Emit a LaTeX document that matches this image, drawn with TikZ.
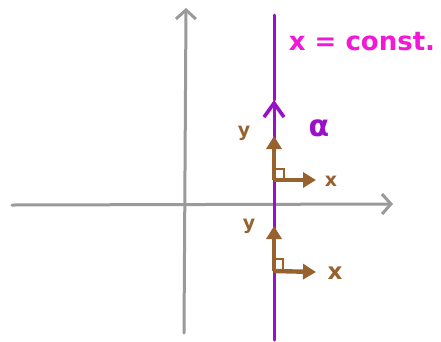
\documentclass[tikz,border=0pt]{standalone}
\usepackage{fontspec}
\setmainfont{DejaVu Sans}
\usepackage{tikz}
\usetikzlibrary{arrows.meta, positioning}

\definecolor{axisgray}{HTML}{9A9A9A}
\definecolor{curvepurple}{HTML}{9A10C8}
\definecolor{constpink}{HTML}{F218D8}
\definecolor{framebrown}{HTML}{98622F}

\begin{document}
\begin{tikzpicture}[
        x=1pt, y=-1pt,
        axis/.style={draw=axisgray, line width=3pt, line cap=round, -{Straight Barb[length=9pt, width=20pt, line width=3pt]}},
        curve/.style={draw=curvepurple, line width=3pt, line cap=round},
        frame/.style={draw=framebrown, line width=4.4pt, -{Triangle[length=13pt, width=15pt]}},
        corner/.style={draw=framebrown, line width=2.6pt},
        lbl/.style={text=framebrown, font=\bfseries\fontsize{19}{20}\selectfont, inner sep=0pt}
    ]
        \useasboundingbox (0,0) rectangle (441,341);

        % axes
        \coordinate (xstart) at (12,205);
        \coordinate (xend) at (393,204);
        \coordinate (ystart) at (184,333);
        \coordinate (yend) at (186,8);
        \draw[axis] (xstart) -- (xend);
        \draw[axis] (ystart) -- (yend);

        % the curve x = const.
        \coordinate (cbot) at (274,340);
        \coordinate (cmid) at (274,100);
        \coordinate (ctop) at (274,15);
        \draw[curve, -{Straight Barb[length=14pt, width=20pt, line width=3.6pt]}] (cbot) -- (cmid);
        \draw[curve] (cmid) -- (ctop);
        \node[text=constpink, font=\bfseries\fontsize{26}{28}\selectfont, inner sep=0pt] (eqn) at (362,42) {x = const.};
        \node[text=curvepurple, font=\bfseries\fontsize{30}{31}\selectfont, inner sep=0pt] (alpha) at (319,128) {α};

        % upper frame
        \coordinate (o1) at (274,180);
        \coordinate (ex1) at (316,180);
        \coordinate (ey1) at (274,136);
        \draw[frame] (o1) -- (ex1);
        \draw[frame] (o1) -- (ey1);
        \draw[corner] (274,169) -- (284,169) -- (284,180);
        \node[lbl] (x1) at (331,181) {x};
        \node[lbl] (y1) at (244,133) {y};

        % lower frame
        \coordinate (o2) at (274,271);
        \coordinate (ex2) at (316,272);
        \coordinate (ey2) at (274,226);
        \draw[frame] (o2) -- (ex2);
        \draw[frame] (o2) -- (ey2);
        \draw[corner] (274,259) -- (283,259) -- (283,271);
        \node[lbl, font=\bfseries\fontsize{23}{24}\selectfont] (x2) at (335,273) {x};
        \node[lbl] (y2) at (249,226) {y};
    \end{tikzpicture}
\end{document}
